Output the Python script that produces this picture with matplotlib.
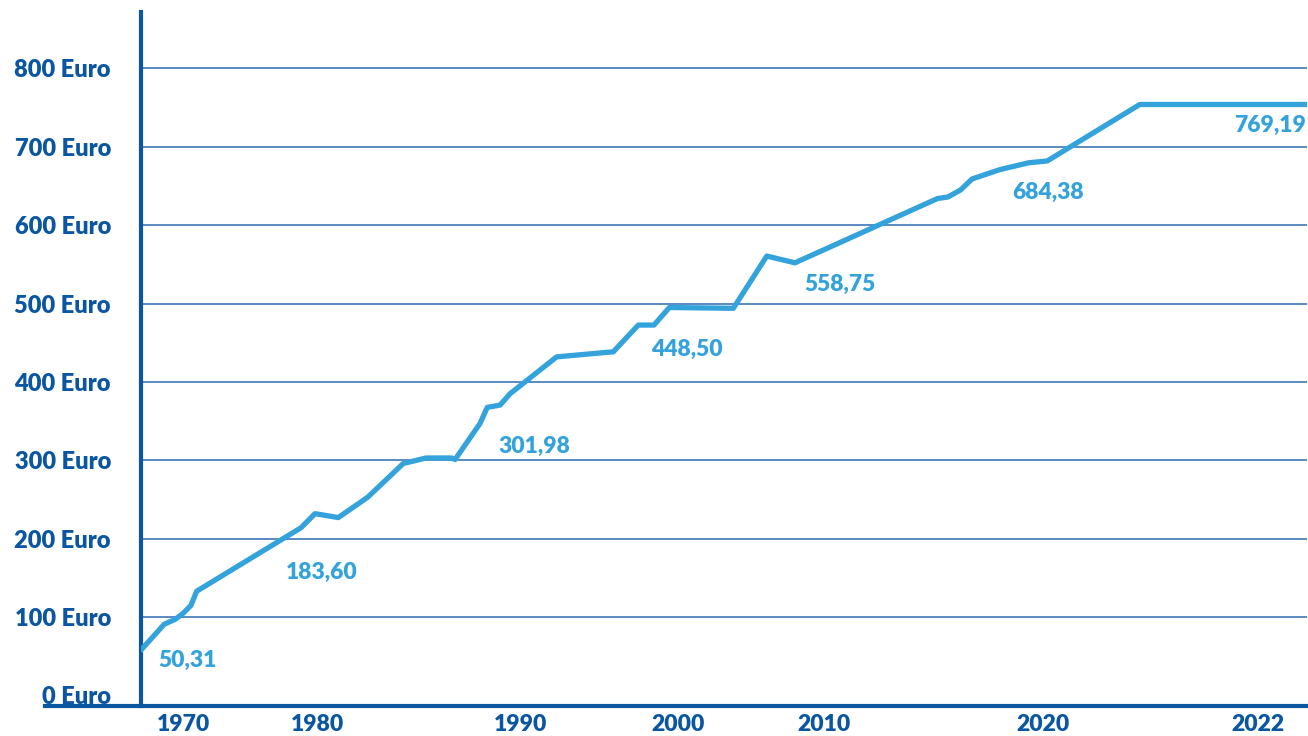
import matplotlib.pyplot as plt
import numpy as np

# points of the curve (year on the axis, Euro)
years = [1966.9, 1968.62, 1969.41, 1970.02, 1970.59, 1971.01, 1978.74, 1979.78,
         1981.0, 1982.45, 1984.2, 1985.32, 1986.59, 1986.75, 1987.98, 1988.34,
         1988.97, 1989.46, 1992.27, 1995.88, 1997.47, 1998.47, 1999.45, 2003.79,
         2006.08, 2008.01, 2015.18, 2015.66, 2016.24, 2016.76, 2018.04, 2019.34,
         2020.04, 2020.90, 2022.46]
values = [58, 91, 97, 105, 115, 133, 214, 232,
          227, 253, 296, 303, 303, 301, 347, 367.6,
          370.5, 385, 432, 438.5, 472.6, 472.6, 495, 494,
          560.6, 552, 634, 636, 645, 659, 671, 679.6,
          682, 754, 754]

tick_years = [1970, 1980, 1990, 2000, 2010, 2020, 2022]
y_ticks = [0, 100, 200, 300, 400, 500, 600, 700, 800]
label_texts = ["50,31", "183,60", "301,98", "448,50", "558,75", "684,38", "769,19"]

# the year axis is not linear: anchor years -> axis position
scale_years = np.array([1966.9, 1970, 1980, 1990, 2000, 2010, 2020, 2022, 2022.46])
scale_pos = np.array([0, 42, 177, 380, 537, 683, 902, 1117, 1166], dtype=float)


def fwd(x):
    return np.interp(x, scale_years, scale_pos)


def inv(p):
    return np.interp(p, scale_pos, scale_years)


DARK = "#0b56a2"
LIGHT = "#34a3dc"
GRID = "#2d6bb2"
plt.rcParams["font.family"] = ["Lato", "DejaVu Sans"]
plt.rcParams["font.weight"] = "heavy"

fig = plt.figure(figsize=(13.08, 7.36), dpi=100)
ax = fig.add_axes([141 / 1308, 30 / 736, 1166 / 1308, 694 / 736])
ax.set_xscale("function", functions=(fwd, inv))
ax.set_xlim(scale_years[0], scale_years[-1])
ax.set_ylim(-13.4, 872)

for v in y_ticks[1:]:
    ax.axhline(v, color=GRID, linewidth=1.1, zorder=1)

ax.plot(years, values, color=LIGHT, linewidth=3.8, solid_capstyle="round",
        solid_joinstyle="round", zorder=3)

label_years = [1970.3, 1980.2, 1990.83, 2000.62, 2010.73, 2020.05, 2022.11]
label_values = [45, 157, 318, 441, 525, 642, 727]
for t, x, y in zip(label_texts, label_years, label_values):
    ax.text(x, y, t, color=LIGHT, fontsize=16.5, fontweight="heavy",
            ha="center", va="center", zorder=4)

for s in ["top", "right"]:
    ax.spines[s].set_visible(False)
ax.spines["left"].set_color(DARK)
ax.spines["left"].set_linewidth(3)
ax.spines["bottom"].set_visible(False)
# bottom axis line reaches past the y-axis to the left
ax.axhline(-13.4, xmin=-96 / 1166, xmax=1, color=DARK, linewidth=3,
           clip_on=False, zorder=5)

ax.set_yticks(y_ticks)
ax.set_yticklabels([f"{v} Euro" for v in y_ticks])
ax.set_xticks(tick_years)
ax.set_xticklabels([str(y) for y in tick_years])
ax.xaxis.set_minor_locator(plt.NullLocator())
ax.tick_params(axis="y", length=0, pad=21.6, labelsize=17, labelcolor=DARK)
ax.tick_params(axis="x", length=0, pad=6, labelsize=16.5, labelcolor=DARK)

fig.savefig("out.png", dpi=100)
